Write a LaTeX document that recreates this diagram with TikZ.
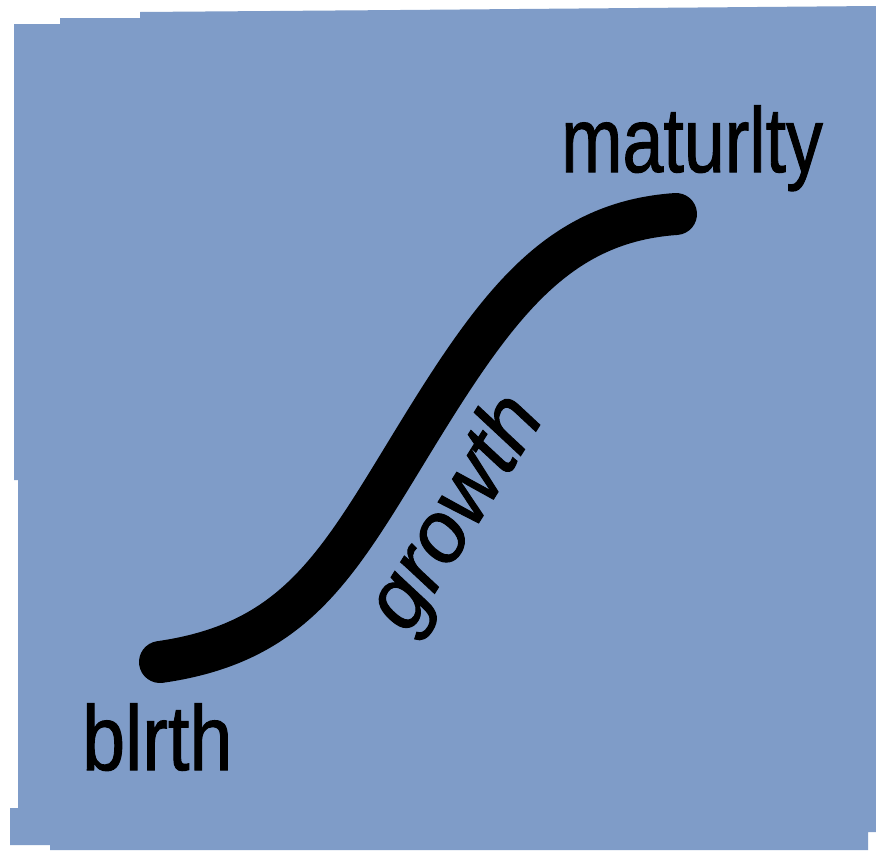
\documentclass[tikz,border=0pt]{standalone}
\usepackage{fontspec}
\setmainfont{Liberation Sans}
\newfontfamily\labelfont[FakeBold=1.2]{Liberation Sans}
\usetikzlibrary{positioning}
\definecolor{BgClr}{RGB}{127,156,200}
\definecolor{CurveClr}{RGB}{0,0,0}

\begin{document}
\begin{tikzpicture}[x=1pt,y=-1pt,
  stage/.style={inner sep=0pt,font=\labelfont\fontsize{92}{92}\selectfont},
  phase/.style={inner sep=0pt,font=\labelfont\fontsize{86}{86}\selectfont\itshape}]
\useasboundingbox (0,0) rectangle (876,857);
\fill[white] (0,0) rectangle (876,857);

% blue card with ragged edges
\fill[BgClr] (14,24) -- (60,24) -- (60,18) -- (140,18) -- (140,12) -- (400,10)
  -- (876,6) -- (876,832) -- (868,832) -- (868,850) -- (50,850) -- (50,845)
  -- (10,845) -- (10,808) -- (18,808) -- (18,480) -- (14,480) -- cycle;

\coordinate (start) at (160,662);
\coordinate (bend) at (420,430);
\coordinate (finish) at (676,214);

\draw[CurveClr,line width=42,line cap=round]
  (start) .. controls (300,642) and (340,560) .. (bend)
  .. controls (500,300) and (560,222) .. (finish);

\node[stage,anchor=base west,xscale=0.80] (maturity) at (561,172) {maturlty};
\node[stage,anchor=base west,xscale=0.84] (birth) at (82,770) {blrth};
\node[phase,rotate=58] (growth) at (458,514) {growth};

\end{tikzpicture}
\end{document}
